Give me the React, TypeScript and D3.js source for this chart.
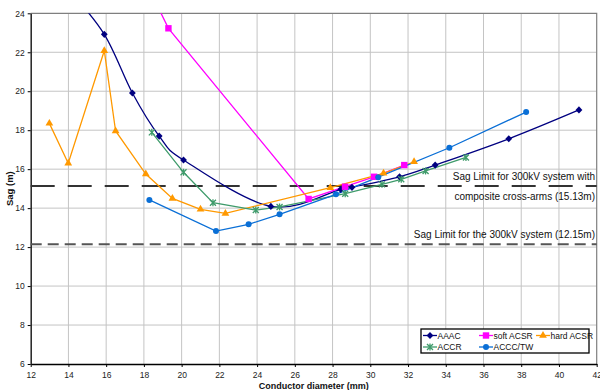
import React, { useEffect, useRef } from 'react';
import * as d3 from 'd3';

// series values [diameter mm, sag m]
const aaac = [[14.0, 25.2], [15.9, 22.92], [17.39, 19.91], [18.81, 17.7], [20.1, 16.47], [24.73, 14.09], [28.43, 14.96], [29.03, 15.07], [31.55, 15.61], [33.44, 16.21], [37.34, 17.56], [41.06, 19.04]];
const softAcsr = [[18.4, 25.0], [19.3, 23.23], [26.73, 14.47], [28.66, 15.1], [30.2, 15.61], [31.8, 16.21]];
const hardAcsr = [[12.99, 18.35], [13.99, 16.3], [15.9, 22.08], [16.5, 17.96], [18.1, 15.75], [19.51, 14.5], [21.0, 13.94], [22.32, 13.73], [27.88, 15.05], [30.7, 15.79], [32.32, 16.38]];
const accr = [[18.42, 17.89], [20.1, 15.84], [21.66, 14.28], [23.93, 13.9], [25.19, 14.06], [28.67, 14.74], [30.62, 15.22], [31.64, 15.48], [32.93, 15.91], [35.07, 16.6]];
const accc = [[18.29, 14.42], [21.82, 12.82], [23.55, 13.17], [25.19, 13.68], [28.18, 14.71], [30.42, 15.59], [34.19, 17.1], [38.26, 18.93]];

const xTicks = [12, 14, 16, 18, 20, 22, 24, 26, 28, 30, 32, 34, 36, 38, 40, 42];
const yTicks = [6, 8, 10, 12, 14, 16, 18, 20, 22, 24];
const limits = [15.13, 12.15];

const series = [
  { name: 'AAAC', data: aaac, color: '#000080', marker: 'diamond', smooth: true },
  { name: 'soft ACSR', data: softAcsr, color: '#ff00ff', marker: 'square', smooth: false },
  { name: 'hard ACSR', data: hardAcsr, color: '#ff9900', marker: 'triangle', smooth: false },
  { name: 'ACCR', data: accr, color: '#3f9b6b', marker: 'star', smooth: false },
  { name: 'ACCC/TW', data: accc, color: '#0a6fd6', marker: 'circle', smooth: false },
];

const font = '"Liberation Sans", Arial, sans-serif';

const App = () => {
  const svgRef = useRef(null);
  const width = 600;
  const height = 390;
  const plot = { left: 30.7, right: 596.7, top: 13.3, bottom: 364 };

  useEffect(() => {
    const svg = d3.select(svgRef.current);
    svg.selectAll('*').remove();

    const x = d3.scaleLinear().domain([12, 42]).range([plot.left, plot.right]);
    const y = d3.scaleLinear().domain([6, 24]).range([plot.bottom, plot.top]);

    svg.append('rect').attr('width', width).attr('height', height).attr('fill', '#fff');

    svg.append('defs').append('clipPath').attr('id', 'plotclip')
      .append('rect')
      .attr('x', plot.left).attr('y', plot.top)
      .attr('width', plot.right - plot.left).attr('height', plot.bottom - plot.top);

    // grid
    const grid = svg.append('g').attr('stroke', '#c4c4c4').attr('stroke-width', 1);
    grid.selectAll('.vx').data(xTicks.slice(1, -1)).join('line')
      .attr('x1', d => x(d)).attr('x2', d => x(d))
      .attr('y1', plot.top).attr('y2', plot.bottom);
    grid.selectAll('.hy').data(yTicks.slice(1, -1)).join('line')
      .attr('x1', plot.left).attr('x2', plot.right)
      .attr('y1', d => y(d)).attr('y2', d => y(d));

    // top/right frame
    svg.append('path')
      .attr('d', `M${plot.left},${plot.top}H${plot.right}V${plot.bottom}`)
      .attr('fill', 'none').attr('stroke', '#7f7f7f').attr('stroke-width', 1.2);

    // axes
    const xAxis = svg.append('g')
      .attr('transform', `translate(0,${plot.bottom})`)
      .call(d3.axisBottom(x).tickValues(xTicks).tickSize(3).tickSizeOuter(0));
    xAxis.select('.domain').attr('stroke', '#000').attr('stroke-width', 1.5);
    xAxis.selectAll('.tick line').attr('stroke', '#000');
    xAxis.selectAll('text').attr('font-family', font).attr('font-size', 8.5).attr('fill', '#222').attr('dy', '0.9em');

    const yAxis = svg.append('g')
      .attr('transform', `translate(${plot.left},0)`)
      .call(d3.axisLeft(y).tickValues(yTicks).tickSize(3).tickSizeOuter(0));
    yAxis.select('.domain').attr('stroke', '#222').attr('stroke-width', 1.5);
    yAxis.selectAll('.tick line').attr('stroke', '#000');
    yAxis.selectAll('text').attr('font-family', font).attr('font-size', 8.5).attr('fill', '#222').attr('x', -6);

    // sag limits
    svg.selectAll('.limit').data(limits).join('line')
      .attr('x1', plot.left).attr('x2', plot.right)
      .attr('y1', d => y(d)).attr('y2', d => y(d))
      .attr('stroke', (d, i) => i === 0 ? '#333' : '#555')
      .attr('stroke-width', 2)
      .attr('stroke-dasharray', (d, i) => i === 0 ? '24,13' : '11,6');

    const note = svg.append('g').attr('font-family', font).attr('font-size', 10).attr('fill', '#111').attr('text-anchor', 'end');
    note.append('text').attr('x', 595).attr('y', y(limits[0]) - 6.5).text('Sag Limit for 300kV system with');
    note.append('text').attr('x', 595).attr('y', y(limits[0]) + 13.5).text('composite cross-arms (15.13m)');
    note.append('text').attr('x', 595).attr('y', y(limits[1]) - 6.5).text('Sag Limit for the 300kV system (12.15m)');

    // marker drawing
    const drawMarker = (g, kind, color) => {
      if (kind === 'diamond') {
        g.append('path').attr('d', 'M0,-3.6L3.4,0L0,3.6L-3.4,0Z').attr('fill', color);
      } else if (kind === 'square') {
        g.append('rect').attr('x', -3.2).attr('y', -3.2).attr('width', 6.4).attr('height', 6.4).attr('fill', color);
      } else if (kind === 'triangle') {
        g.append('path').attr('d', d3.symbol(d3.symbolTriangle, 26)()).attr('fill', color);
      } else if (kind === 'circle') {
        g.append('circle').attr('r', 3).attr('fill', color);
      } else {
        g.append('path').attr('d', 'M-3,-3L3,3M-3,3L3,-3M0,-3.5V3.5')
          .attr('stroke', color).attr('stroke-width', 1.3).attr('fill', 'none');
      }
    };

    const chart = svg.append('g').attr('clip-path', 'url(#plotclip)');
    series.forEach(s => {
      const line = d3.line().x(d => x(d[0])).y(d => y(d[1]))
        .curve(s.smooth ? d3.curveCardinal.tension(0) : d3.curveLinear);
      chart.append('path').datum(s.data).attr('d', line)
        .attr('fill', 'none').attr('stroke', s.color).attr('stroke-width', 1.3);
    });
    series.forEach(s => {
      chart.selectAll(null).data(s.data.filter(d => d[1] <= 24)).join('g')
        .attr('transform', d => `translate(${x(d[0])},${y(d[1])})`)
        .each(function () { drawMarker(d3.select(this), s.marker, s.color); });
    });

    // legend
    const lg = svg.append('g').attr('font-family', font).attr('font-size', 8.5).attr('fill', '#111');
    lg.append('rect').attr('x', 421).attr('y', 329).attr('width', 168).attr('height', 24)
      .attr('fill', '#fff').attr('stroke', '#000').attr('stroke-width', 1.3);
    const slots = [[430, 335.5], [486, 335.5], [543, 335.5], [430, 347], [486, 347]];
    series.forEach((s, i) => {
      const [lx, ly] = slots[i];
      const e = lg.append('g').attr('transform', `translate(${lx},${ly})`);
      e.append('line').attr('x1', -7).attr('x2', 7).attr('stroke', s.color).attr('stroke-width', 1.3);
      drawMarker(e, s.marker, s.color);
      e.append('text').attr('x', 7.5).attr('y', 3).text(s.name);
    });

    // axis titles
    svg.append('text')
      .attr('x', (plot.left + plot.right) / 2).attr('y', 389)
      .attr('text-anchor', 'middle').attr('font-family', font)
      .attr('font-size', 9).attr('font-weight', 'bold').attr('fill', '#111')
      .text('Conductor diameter (mm)');
    svg.append('text')
      .attr('transform', `translate(13,${(plot.top + plot.bottom) / 2}) rotate(-90)`)
      .attr('text-anchor', 'middle').attr('font-family', font)
      .attr('font-size', 9.5).attr('font-weight', 'bold').attr('fill', '#111')
      .text('Sag (m)');
  }, []);

  return (
    <svg ref={svgRef} width={width} height={height}
      style={{ position: 'absolute', left: 0, top: 0, display: 'block' }} />
  );
};

export default App;
